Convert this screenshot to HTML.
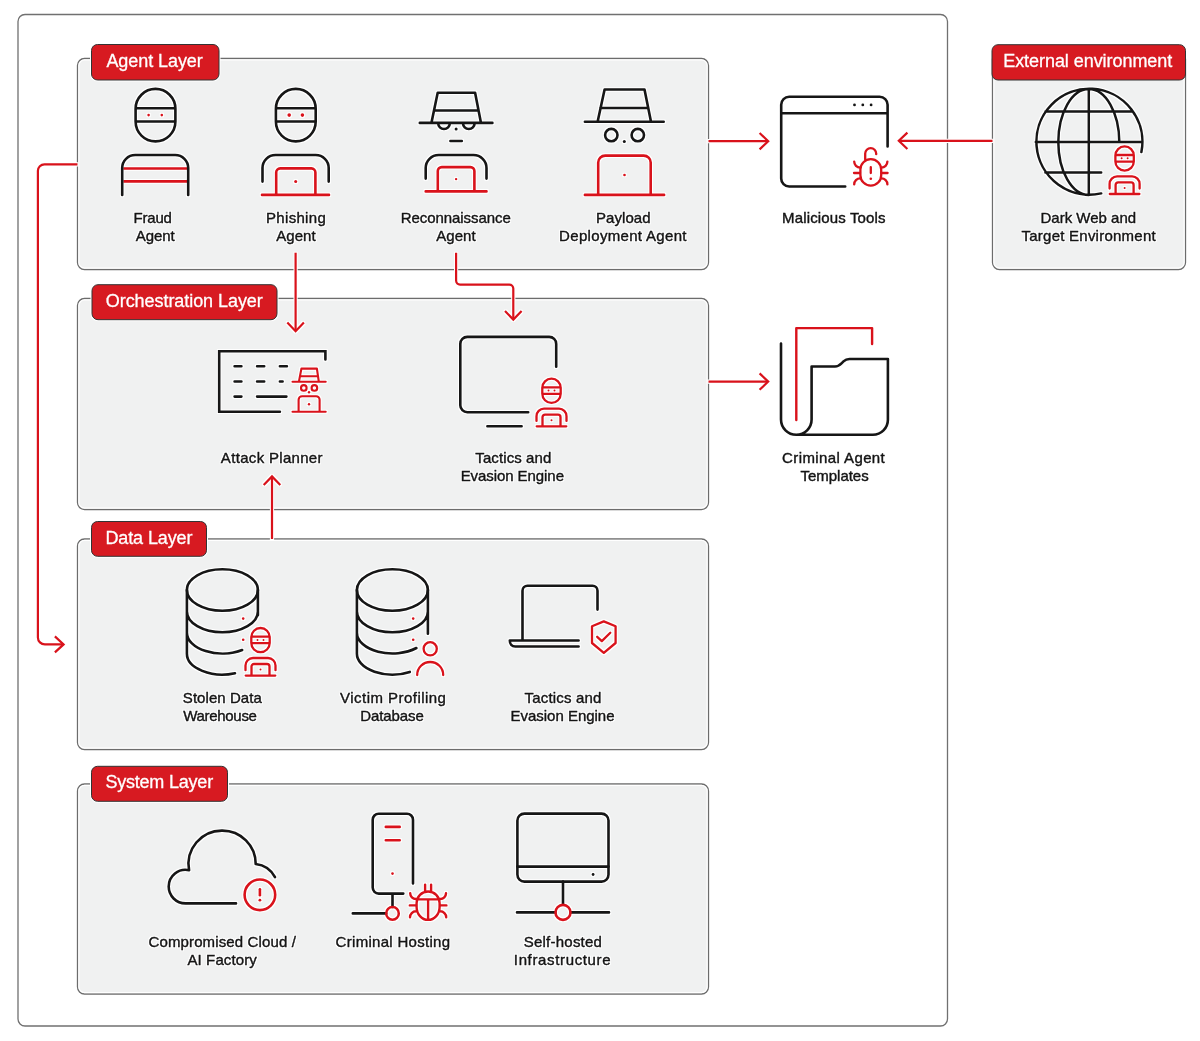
<!DOCTYPE html>
<html><head><meta charset="utf-8"><style>
html,body{margin:0;padding:0;background:#fff;width:1200px;height:1041px;overflow:hidden}
svg{display:block}
text{font-family:"Liberation Sans",sans-serif}
.t{font-size:15px;fill:#141414;text-anchor:middle;stroke:#141414;stroke-width:0.4px}
.lt{font-size:18px;fill:#fff;stroke:#fff;stroke-width:0.3px}
.k{fill:none;stroke:#161616;stroke-width:2.6;stroke-linecap:round;stroke-linejoin:round}
.r{fill:none;stroke:#d9121b;stroke-width:2.6;stroke-linecap:round;stroke-linejoin:round}
.rs{fill:none;stroke:#d9121b;stroke-width:2.1;stroke-linecap:round;stroke-linejoin:round}
.ar{fill:none;stroke:#d9121b;stroke-width:2.2;stroke-linecap:butt;stroke-linejoin:miter}
.box{fill:#f0f1f1;stroke:#6c6c6c;stroke-width:1.3}
.lab{fill:#d71a21;stroke:#333;stroke-width:1}
.rd{fill:#d9121b}
.kd{fill:#161616}
</style></head><body>
<svg width="1200" height="1041" viewBox="0 0 1200 1041">
<defs>
<g id="hk">
  <path style="stroke-width:2.3" class="rs" d="M-9.2,-32.6 V-38.4 A9.2,9.2 0 0 1 9.2,-38.4 V-32.6 A9.2,9.2 0 0 1 -9.2,-32.6 Z M-9.2,-39 H9.2 M-9.2,-32.4 H9.2"/>
  <circle class="rd" cx="-3" cy="-35.7" r="1"/><circle class="rd" cx="3" cy="-35.7" r="1"/>
  <path style="stroke-width:2.3" class="rs" d="M-15,-5.4 V-10.1 A7.5,7.5 0 0 1 -7.5,-17.6 H7.5 A7.5,7.5 0 0 1 15,-10.1 V-5.4"/>
  <path style="stroke-width:2.3" class="rs" d="M-9,0 V-9.1 A2.5,2.5 0 0 1 -6.5,-11.6 H6.5 A2.5,2.5 0 0 1 9,-9.1 V0 M-14.8,0 H14.8"/>
  <circle class="rd" cx="0" cy="-6" r="1"/>
</g>
<filter id="halo" x="-5%" y="-5%" width="110%" height="110%" color-interpolation-filters="sRGB">
  <feMorphology in="SourceAlpha" operator="dilate" radius="1" result="d"/>
  <feFlood flood-color="#ffffff" result="w"/>
  <feComposite in="w" in2="d" operator="in" result="h"/>
  <feMerge><feMergeNode in="h"/><feMergeNode in="SourceGraphic"/></feMerge>
</filter>
</defs>
<!-- outer container -->
<rect x="18" y="14.5" width="929.5" height="1011.5" rx="7" fill="#fff" stroke="#707070" stroke-width="1.3"/>

<!-- boxes -->
<rect class="box" x="77.5" y="58.5" width="631" height="211" rx="7"/>
<rect class="box" x="77.5" y="298.5" width="631" height="211" rx="7"/>
<rect class="box" x="77.5" y="539" width="631" height="210.5" rx="7"/>
<rect class="box" x="77.5" y="784" width="631" height="210" rx="7"/>
<rect class="box" x="992.5" y="52" width="193" height="217.5" rx="7"/>
<rect x="78.9" y="59.9" width="628.2" height="208.2" rx="5.6" fill="none" stroke="#fff" stroke-width="1.1"/>
<rect x="78.9" y="299.9" width="628.2" height="208.2" rx="5.6" fill="none" stroke="#fff" stroke-width="1.1"/>
<rect x="78.9" y="540.4" width="628.2" height="207.7" rx="5.6" fill="none" stroke="#fff" stroke-width="1.1"/>
<rect x="78.9" y="785.4" width="628.2" height="207.2" rx="5.6" fill="none" stroke="#fff" stroke-width="1.1"/>
<rect x="993.9" y="53.4" width="190.2" height="214.7" rx="5.6" fill="none" stroke="#fff" stroke-width="1.1"/>

<g filter="url(#halo)">
<!-- connectors -->
<path class="ar" d="M77.5,164.3 H44.4 A6.5,6.5 0 0 0 37.9,170.8 V637.4 A7,7 0 0 0 44.9,644.4 H63.2"/>
<path class="ar" d="M54.9,636.4 L63.6,644.4 L54.9,652.4"/>
<path class="ar" d="M295.6,252.7 V331"/>
<path class="ar" d="M287.3,322.6 L295.6,331.2 L303.9,322.6"/>
<path class="ar" d="M456.1,252.8 V280.6 A4,4 0 0 0 460.1,284.6 H509.3 A4,4 0 0 1 513.3,288.6 V319.4"/>
<path class="ar" d="M505,311 L513.3,319.6 L521.6,311"/>
<path class="ar" d="M708.5,141.2 H768"/>
<path class="ar" d="M759.6,133 L768.2,141.2 L759.6,149.4"/>
<path class="ar" d="M992.5,140.8 H899"/>
<path class="ar" d="M907.4,132.6 L898.8,140.8 L907.4,149"/>
<path class="ar" d="M708.5,381.6 H768"/>
<path class="ar" d="M759.6,373.4 L768.2,381.6 L759.6,389.8"/>
<path class="ar" d="M272,539 V476.6"/>
<path class="ar" d="M263.7,485 L272,476.4 L280.3,485"/>

</g>
<!-- labels -->
<rect x="91.5" y="44.5" width="127.5" height="35.5" rx="6" fill="none" stroke="#fff" stroke-width="3"/>
<rect class="lab" x="91.5" y="44.5" width="127.5" height="35.5" rx="6"/>
<rect x="92" y="284.7" width="185" height="35" rx="6" fill="none" stroke="#fff" stroke-width="3"/>
<rect class="lab" x="92" y="284.7" width="185" height="35" rx="6"/>
<rect x="91.5" y="521.5" width="115" height="34.8" rx="6" fill="none" stroke="#fff" stroke-width="3"/>
<rect class="lab" x="91.5" y="521.5" width="115" height="34.8" rx="6"/>
<rect x="91.5" y="766.3" width="136" height="35" rx="6" fill="none" stroke="#fff" stroke-width="3"/>
<rect class="lab" x="91.5" y="766.3" width="136" height="35" rx="6"/>
<rect class="lab" x="992" y="44.7" width="193.5" height="35.3" rx="6"/>

<g filter="url(#halo)">
<!-- Fraud agent -->
<path class="k" d="M135.6,121.5 V108.8 A19.9,19.9 0 0 1 175.4,108.8 V121.5 A19.9,19.9 0 0 1 135.6,121.5 Z M135.6,108.2 H175.4 M135.6,121.5 H175.4"/>
<circle class="rd" cx="148.6" cy="115.1" r="1.3"/><circle class="rd" cx="161.8" cy="115.1" r="1.3"/>
<path style="stroke-linecap:butt" class="r" d="M123.4,168.5 H187 M123.4,181.4 H187"/>
<path class="k" d="M122.2,194.9 V168 A13,13 0 0 1 135.2,155 H175.2 A13,13 0 0 1 188.2,168 V194.9"/>

<!-- Phishing agent -->
<path class="k" d="M275.9,121.5 V108.8 A19.9,19.9 0 0 1 315.7,108.8 V121.5 A19.9,19.9 0 0 1 275.9,121.5 Z M275.9,108.2 H315.7 M275.9,121.5 H315.7"/>
<circle class="rd" cx="289.2" cy="115.1" r="1.8"/><circle class="rd" cx="302.4" cy="115.1" r="1.8"/>
<path class="k" d="M262.5,181.6 V168 A13,13 0 0 1 275.5,155 H315.7 A13,13 0 0 1 328.7,168 V181.6"/>
<path class="r" d="M276.2,194.9 V172.4 A4,4 0 0 1 280.2,168.4 H311.4 A4,4 0 0 1 315.4,172.4 V194.9 M262,194.9 H329"/>
<circle class="rd" cx="295.7" cy="181.6" r="1.5"/>

<!-- Reconnaissance agent -->
<path class="k" d="M431.4,122.9 L437.7,92.7 H475.1 L481,122.9 M434,110.5 H478.6 M419.8,122.9 H492.4"/>
<path class="k" d="M438.2,123.2 A5.8,5.8 0 0 0 449.8,123.2 M463,123.2 A5.8,5.8 0 0 0 474.6,123.2"/>
<circle class="kd" cx="456.1" cy="129" r="1.5"/>
<path class="k" d="M450.4,141 H461.8"/>
<path class="k" d="M425.7,178.6 V168 A13,13 0 0 1 438.7,155 H473.5 A13,13 0 0 1 486.5,168 V178.6"/>
<path class="r" d="M437.8,191.4 V171.1 A4,4 0 0 1 441.8,167.1 H470.4 A4,4 0 0 1 474.4,171.1 V191.4 M425.7,191.4 H486.5"/>
<circle class="rd" cx="456.1" cy="179.1" r="1.2"/>

<!-- Payload agent -->
<path class="k" d="M597.6,121.7 L604.6,89.5 H644.5 L651,121.7 M600.4,108 H648.3 M584.9,121.7 H663.7"/>
<circle class="k" cx="611.3" cy="135.1" r="6.2"/><circle class="k" cx="637.8" cy="135.1" r="6.2"/>
<circle class="kd" cx="624.3" cy="141.6" r="1.5"/>
<path class="r" d="M598.2,194.9 V162.6 A7,7 0 0 1 605.2,155.6 H643.7 A7,7 0 0 1 650.7,162.6 V194.9 M584.9,194.9 H664.1"/>
<circle class="rd" cx="624.5" cy="175" r="1.3"/>

<!-- Malicious tools -->
<path class="k" d="M887.6,146.4 V104.8 A8,8 0 0 0 879.6,96.8 H789.2 A8,8 0 0 0 781.2,104.8 V178.5 A8,8 0 0 0 789.2,186.5 H845.2 M781.2,113.2 H887.6"/>
<circle class="kd" cx="854.5" cy="104.9" r="1.4"/><circle class="kd" cx="862.8" cy="104.9" r="1.4"/><circle class="kd" cx="871.1" cy="104.9" r="1.4"/>
<g style="stroke-width:2.3" class="rs">
<path d="M860.4,175.2 V169.6 A10.4,10.4 0 0 1 881.2,169.6 V175.2 A10.4,10.4 0 0 1 860.4,175.2 Z"/>
<path d="M865.2,159.6 V153.6 A5.5,5.5 0 0 1 876.2,153.6 V154.2 M870.8,167.2 V173 M854.2,161.6 A6,6 0 0 0 860.2,167.6 M854,173 H860 M860.2,178.4 A6,6 0 0 0 854.2,184.4 M887.4,161.6 A6,6 0 0 1 881.4,167.6 M887.6,173 H881.6 M881.4,178.4 A6,6 0 0 1 887.4,184.4"/>
</g>
<circle class="rd" cx="870.8" cy="178.7" r="1.3"/>

<!-- Globe -->
<path style="stroke-width:2.5" class="k" d="M1141.4,152 A53,53 0 1 0 1101.2,193.4 M1088.8,89 V195 M1035.8,142 H1141.8 M1045.5,111.5 H1132.1 M1045.4,172.4 H1101.2 M1088.8,89 A30.5,53 0 0 0 1088.8,195 M1088.8,89 A30.5,53 0 0 1 1119.3,142"/>
<use href="#hk" x="1124.6" y="194"/>

<!-- Attack planner -->
<path style="stroke-linejoin:miter" class="k" d="M325.4,359.5 V351.2 H219.2 V411.7 H279.9"/>
<path class="k" d="M234.6,366.3 H241.4 M257.1,366.3 H264.2 M279.9,366.3 H286.9 M234.6,381.5 H241.4 M257.1,381.5 H264.2 M279.9,381.5 H282.6 M234.6,396.6 H241.4 M257.1,396.6 H286.4"/>
<g class="rs">
<path d="M298.9,381.7 L301.4,368.6 H316.9 L318.8,381.7 M300.4,376.3 H317.6 M292.5,381.7 H325.7"/>
<circle cx="303.8" cy="387.9" r="2.8"/><circle cx="314.4" cy="387.9" r="2.8"/>
<path d="M298.6,411.7 V399.8 A3.5,3.5 0 0 1 302.1,396.3 H316.1 A3.5,3.5 0 0 1 319.6,399.8 V411.7 M292.5,411.7 H325.7"/>
</g>
<circle class="rd" cx="309" cy="392.2" r="1.2"/><circle class="rd" cx="309" cy="404.2" r="1.2"/>

<!-- Tactics monitor -->
<path class="k" d="M556.2,366.8 V343.9 A7,7 0 0 0 549.2,336.9 H467.3 A7,7 0 0 0 460.3,343.9 V405.2 A7,7 0 0 0 467.3,412.2 H528.2 M487.4,426.3 H521.6"/>
<use href="#hk" x="551.5" y="426.3"/>

<!-- Criminal agent templates -->
<path class="k" d="M781,343.5 V419.5 A15.3,15.3 0 0 0 811.6,419.5 V366.5 H835 Q838.5,366.5 841.5,363.4 L843.5,361.4 Q846,359 849.5,359 H887.9 V419.8 A15,15 0 0 1 872.9,434.8 H796.3"/>
<path style="stroke-width:2.4" class="r" d="M796.3,420 V328.1 H872.1 V344"/>

<!-- Stolen data DB -->
<g class="k">
<ellipse cx="222.4" cy="590" rx="35.5" ry="20.8"/>
<path d="M186.9,590 V653.8 M257.9,590 V615.2 M186.9,611.5 A35.5,20.8 0 0 0 257.9,611.5 M186.9,632.7 A35.5,20.8 0 0 0 242.2,650.0 M186.9,653.8 A35.5,20.8 0 0 0 235,673.2"/>
</g>
<circle class="rd" cx="243.2" cy="618.6" r="1.3"/><circle class="rd" cx="243.2" cy="639.8" r="1.3"/>
<use href="#hk" x="260.5" y="675.6"/>

<!-- Victim profiling DB -->
<g class="k">
<ellipse cx="392.4" cy="590" rx="35.5" ry="20.8"/>
<path d="M356.9,590 V653.8 M427.9,590 V633.8 M356.9,611.5 A35.5,20.8 0 0 0 427.9,611.5 M356.9,632.7 A35.5,20.8 0 0 0 416.4,648.0 M356.9,653.8 A35.5,20.8 0 0 0 409.8,671.9"/>
</g>
<circle class="rd" cx="413.2" cy="618.6" r="1.3"/><circle class="rd" cx="413.2" cy="639.8" r="1.3"/>
<circle style="stroke-width:2.3" class="r" cx="430.2" cy="648.8" r="6.6"/>
<path style="stroke-width:2.3" class="r" d="M417.2,675 A13,13 0 0 1 443.2,675"/>

<!-- Laptop shield -->
<path class="k" d="M597.5,609.6 V590.8 A5,5 0 0 0 592.5,585.8 H527.5 A5,5 0 0 0 522.5,590.8 V640.5 M578.6,640.5 H509.8 C509.8,644 511.8,646.5 515.3,646.5 H578.6"/>
<path style="stroke-width:2.3" class="r" d="M603.8,621.4 L615.6,626.2 V643 L603.8,652.9 L592,643 V626.2 Z M597.2,636.8 L601.8,641.1 L610.3,632.8"/>

<!-- Cloud -->
<path class="k" d="M236,903.4 H185.5 A16.8,16.8 0 0 1 168.7,886.6 A16.8,16.8 0 0 1 189.1,870.2 A33.4,33.4 0 0 1 222.3,830.6 A33.4,33.4 0 0 1 255.7,864 A25,25 0 0 1 275,877.2"/>
<circle class="r" cx="259.9" cy="894.8" r="15.3"/>
<path class="r" d="M259.9,889.3 V895.3"/>
<circle class="rd" cx="259.9" cy="900.2" r="1.4"/>

<!-- Server -->
<path class="k" d="M413,883.5 V819.7 A6,6 0 0 0 407,813.7 H378.7 A6,6 0 0 0 372.7,819.7 V887.6 A6,6 0 0 0 378.7,893.6 H403.3 M392.5,893.6 V907 M352.8,913.4 H386.2"/>
<path class="r" d="M385.8,826.9 H399.7 M385.8,840.2 H399.7"/>
<circle class="rd" cx="392.5" cy="873.6" r="1.3"/>
<circle style="stroke-width:2.5" class="r" cx="392.5" cy="913.4" r="6.3"/>
<g style="stroke-width:2.4" class="rs">
<path d="M416.6,907 V903 A11.5,11.5 0 0 1 439.6,903 V907 A11.5,12.9 0 0 1 416.6,907 Z M417.2,899.4 H439 M428.1,899.4 V919.9 M425.1,884.6 V891.6 M431.1,884.6 V891.6 M410.2,893.2 A5.8,5.8 0 0 0 416,899 M409.8,905.4 H416.6 M416,911.3 A6,6 0 0 0 410,917.3 M446,893.2 A5.8,5.8 0 0 1 440.2,899 M446.4,905.4 H439.6 M440.2,911.3 A6,6 0 0 1 446.2,917.3"/>
</g>

<!-- Self-hosted -->
<rect class="k" x="517.4" y="813.6" width="91.1" height="68" rx="7"/>
<path class="k" d="M517.4,866.6 H608.5 M563,881.6 V904.7 M517,912.4 H555.3 M570.7,912.4 H609"/>
<circle class="kd" cx="593.1" cy="874.5" r="1.4"/>
<circle class="r" cx="563" cy="912.4" r="7.5"/>

<!-- text -->

<!--TEXT-->
</g>
<text class="lt" x="106.40" y="66.7" textLength="96.38" lengthAdjust="spacing">Agent Layer</text>
<text class="lt" x="105.80" y="306.6" textLength="156.98" lengthAdjust="spacing">Orchestration Layer</text>
<text class="lt" x="105.40" y="543.5" textLength="87.06" lengthAdjust="spacing">Data Layer</text>
<text class="lt" x="105.40" y="788.1" textLength="107.75" lengthAdjust="spacing">System Layer</text>
<text class="lt" x="1003.20" y="66.7" textLength="169.09" lengthAdjust="spacing">External environment</text>
<g filter="url(#halo)">
<text class="t" x="152.70" y="222.7" textLength="38.29" lengthAdjust="spacing">Fraud</text>
<text class="t" x="155.20" y="240.7" textLength="39.10" lengthAdjust="spacing">Agent</text>
<text class="t" x="295.90" y="222.7" textLength="59.75" lengthAdjust="spacing">Phishing</text>
<text class="t" x="295.90" y="240.7" textLength="39.40" lengthAdjust="spacing">Agent</text>
<text class="t" x="455.70" y="222.7" textLength="110.11" lengthAdjust="spacing">Reconnaissance</text>
<text class="t" x="455.90" y="240.7" textLength="39.40" lengthAdjust="spacing">Agent</text>
<text class="t" x="623.30" y="222.7" textLength="54.62" lengthAdjust="spacing">Payload</text>
<text class="t" x="622.80" y="240.7" textLength="127.48" lengthAdjust="spacing">Deployment Agent</text>
<text class="t" x="833.80" y="222.7" textLength="103.54" lengthAdjust="spacing">Malicious Tools</text>
<text class="t" x="1088.30" y="222.7" textLength="95.71" lengthAdjust="spacing">Dark Web and</text>
<text class="t" x="1088.60" y="240.7" textLength="134.08" lengthAdjust="spacing">Target Environment</text>
<text class="t" x="271.70" y="462.7" textLength="101.66" lengthAdjust="spacing">Attack Planner</text>
<text class="t" x="513.30" y="462.7" textLength="75.95" lengthAdjust="spacing">Tactics and</text>
<text class="t" x="512.30" y="480.7" textLength="103.35" lengthAdjust="spacing">Evasion Engine</text>
<text class="t" x="833.40" y="462.7" textLength="102.75" lengthAdjust="spacing">Criminal Agent</text>
<text class="t" x="834.60" y="480.7" textLength="68.08" lengthAdjust="spacing">Templates</text>
<text class="t" x="222.30" y="703" textLength="78.99" lengthAdjust="spacing">Stolen Data</text>
<text class="t" x="220.10" y="720.8" textLength="73.66" lengthAdjust="spacing">Warehouse</text>
<text class="t" x="393.00" y="703" textLength="105.92" lengthAdjust="spacing">Victim Profiling</text>
<text class="t" x="392.00" y="720.8" textLength="63.62" lengthAdjust="spacing">Database</text>
<text class="t" x="562.90" y="703" textLength="76.75" lengthAdjust="spacing">Tactics and</text>
<text class="t" x="562.50" y="720.8" textLength="104.05" lengthAdjust="spacing">Evasion Engine</text>
<text class="t" x="222.20" y="947.3" textLength="147.46" lengthAdjust="spacing">Compromised Cloud /</text>
<text class="t" x="222.10" y="965.3" textLength="69.36" lengthAdjust="spacing">AI Factory</text>
<text class="t" x="392.80" y="947.3" textLength="114.45" lengthAdjust="spacing">Criminal Hosting</text>
<text class="t" x="562.80" y="947.3" textLength="78.29" lengthAdjust="spacing">Self-hosted</text>
<text class="t" x="562.20" y="965.3" textLength="96.78" lengthAdjust="spacing">Infrastructure</text>
</g>
</svg>
</body></html>
